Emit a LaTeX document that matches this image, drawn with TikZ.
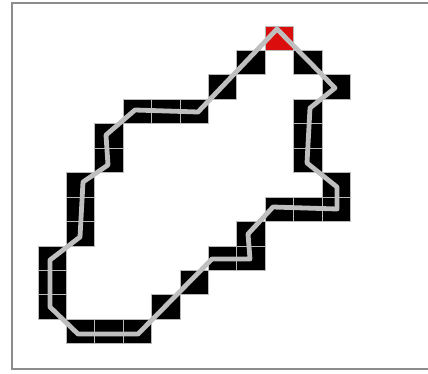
\documentclass[tikz,border=0pt]{standalone}
\begin{document}
\begin{tikzpicture}[x=0.75pt,y=-0.75pt,
  cellbox/.style={fill=black,draw=gray!55,line width=0.7pt},
  redbox/.style={fill=red!85!black!95,draw=gray!55,line width=0.7pt},
  trace/.style={draw=gray!50,line width=3.6pt,line join=round,line cap=round},
  frame/.style={draw=gray!90,line width=1.5pt}]
\useasboundingbox (0,0) rectangle (428,374);
\fill[white] (0,0) rectangle (428,374);
\draw[frame] (428,3) -- (12,3) -- (12,369) -- (428,369);
\def\cw{28.4}\def\rh{24.45}
\foreach \c/\r in {7/1,9/1,6/2,10/2,3/3,4/3,5/3,9/3,2/4,9/4,2/5,9/5,1/6,10/6,1/7,8/7,9/7,10/7,1/8,7/8,0/9,6/9,7/9,0/10,5/10,0/11,4/11,1/12,2/12,3/12}{
  \path[cellbox] ({38+\cw*\c},{26+\rh*\r}) rectangle ({38+\cw*(\c+1)},{26+\rh*(\r+1)});
}
\path[redbox] ({38+\cw*8},26) rectangle ({38+\cw*9},{26+\rh});
\draw[trace] (277,29) -- (198,112) -- (135,110) -- (106,135) -- (108,165) -- (83,182) -- (80,237) -- (50,260) -- (50,307) -- (78,334) -- (138,334) -- (212,259) -- (250,259) -- (248,234) -- (273,207) -- (337,209) -- (337,187) -- (307,163) -- (310,108) -- (335,88) -- cycle;
\end{tikzpicture}
\end{document}
